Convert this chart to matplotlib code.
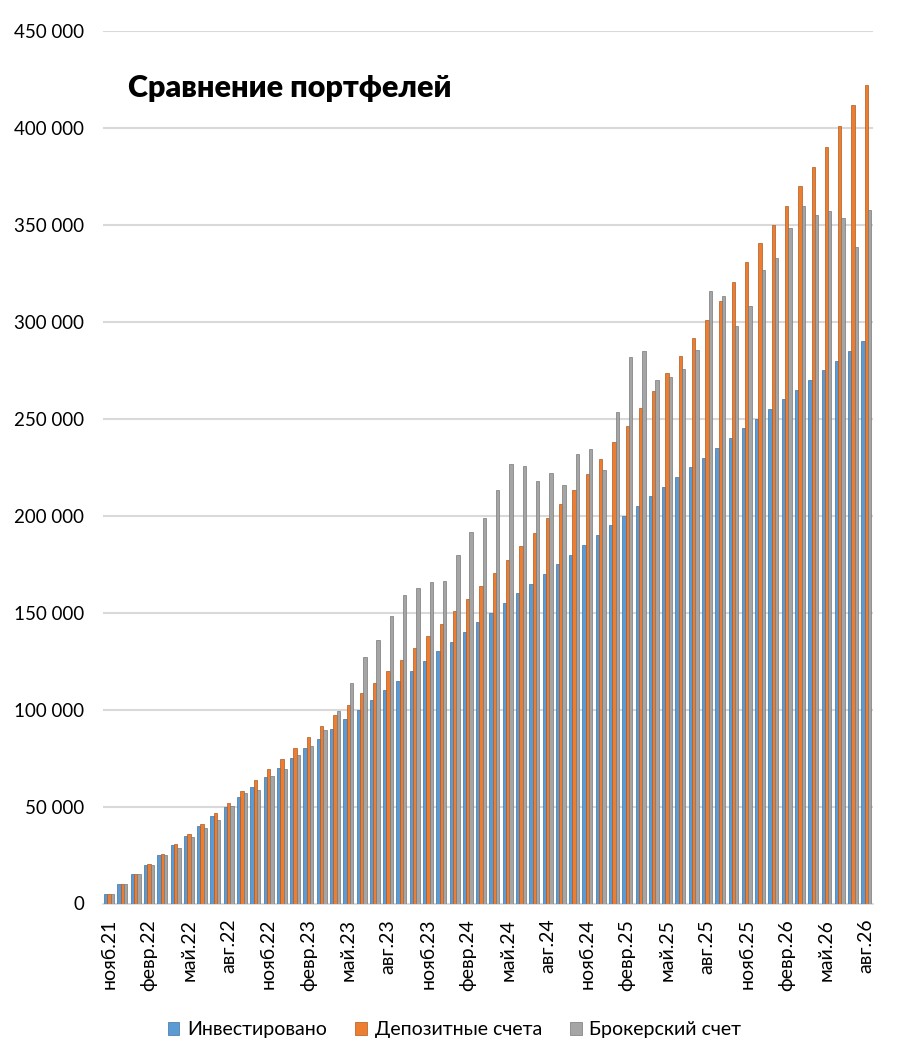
import numpy as np
import matplotlib.pyplot as plt
from matplotlib.ticker import FuncFormatter, MultipleLocator

plt.rcParams['font.family'] = ['Lato', 'DejaVu Sans']

month_names = ['янв', 'февр', 'март', 'апр', 'май', 'июнь',
               'июль', 'авг', 'сент', 'окт', 'нояб', 'дек']
# nov.21 .. aug.26
months = [f"{month_names[(10 + i) % 12]}.{21 + (10 + i) // 12}" for i in range(58)]

invested = [5000, 10000, 15000, 20000, 25000, 30000, 35000, 40000, 45000, 50000,
            55000, 60000, 65000, 70000, 75000, 80000, 85000, 90000, 95000, 100000,
            105000, 110000, 115000, 120000, 125000, 130000, 135000, 140000, 145000, 150000,
            155000, 160000, 165000, 170000, 175000, 180000, 185000, 190000, 195000, 200000,
            205000, 210000, 215000, 220000, 225000, 230000, 235000, 240000, 245000, 250000,
            255000, 260000, 265000, 270000, 275000, 280000, 285000, 290000]

deposit = [5000, 10060, 15180, 20350, 25560, 30500, 35700, 41200, 46900, 51800,
           57900, 63900, 69200, 74700, 80300, 85800, 91500, 97000, 102600, 108400,
           113900, 119800, 125800, 131800, 138100, 144400, 151000, 157000, 163800, 170400,
           177200, 184400, 191300, 198700, 205900, 213200, 221300, 229300, 237900, 246500,
           255400, 264500, 273600, 282500, 291900, 301000, 310800, 320700, 330900, 340800,
           350200, 360000, 370000, 380000, 390300, 400800, 411600, 422200]

broker = [5000, 10000, 15000, 19800, 25000, 28700, 34400, 38700, 43300, 50200,
          57000, 58400, 65700, 69200, 76400, 81200, 89300, 99500, 113800, 127300,
          135900, 148400, 159000, 162500, 165900, 166400, 179600, 191600, 198800, 213100,
          226900, 225900, 217700, 222100, 215800, 231900, 234200, 223400, 253300, 281800,
          285100, 269800, 271300, 275800, 285600, 315800, 313400, 298100, 308200, 326600,
          333100, 348200, 359800, 355000, 357100, 353700, 338700, 357900]

series = [
    ('Инвестировано', invested, '#5B9BD5', '#41719C'),
    ('Депозитные счета', deposit, '#ED7D31', '#AE5A21'),
    ('Брокерский счет', broker, '#A5A5A5', '#787878'),
]

fig = plt.figure(figsize=(9, 10.58), dpi=100)
ax = fig.add_axes([102.5 / 900, 1 - 903.5 / 1058, (873 - 102.5) / 900, (903.5 - 31) / 1058])

x = np.arange(len(months))
w = 0.25
for k, (name, vals, col, edge) in enumerate(series):
    ax.bar(x + (k - 1) * w, vals, width=w, color=col, edgecolor=edge,
           linewidth=0.5, label=name, zorder=3)

ax.set_xlim(-0.5, len(months) - 0.5)
ax.set_ylim(0, 450000)
ax.yaxis.set_major_locator(MultipleLocator(50000))
ax.yaxis.set_major_formatter(FuncFormatter(lambda v, p: f"{int(v):,}".replace(',', ' ')))
ax.grid(axis='y', color='#D9D9D9', linewidth=1.5, zorder=0)
for s in ['top', 'right', 'left']:
    ax.spines[s].set_visible(False)
ax.spines['bottom'].set_color('#D9D9D9')
ax.spines['bottom'].set_linewidth(1.2)

ax.set_xticks(x[::3])
ax.set_xticklabels(months[::3], rotation=90, va='top', ha='center')
ax.tick_params(axis='x', length=0, pad=11, labelsize=14)
ax.tick_params(axis='y', length=0, pad=13, labelsize=13.5)

ax.text(128 / 900, 1 - 88 / 1058, 'Сравнение портфелей', transform=fig.transFigure,
        fontsize=22, fontweight='heavy', va='center', ha='left')

fig.legend(loc='center', bbox_to_anchor=(0.505, 1 - 1030 / 1058), ncol=3, frameon=False,
           fontsize=14, handlelength=0.6, handleheight=0.6, handletextpad=0.4,
           columnspacing=1.45)

fig.savefig('out.png', dpi=100)
